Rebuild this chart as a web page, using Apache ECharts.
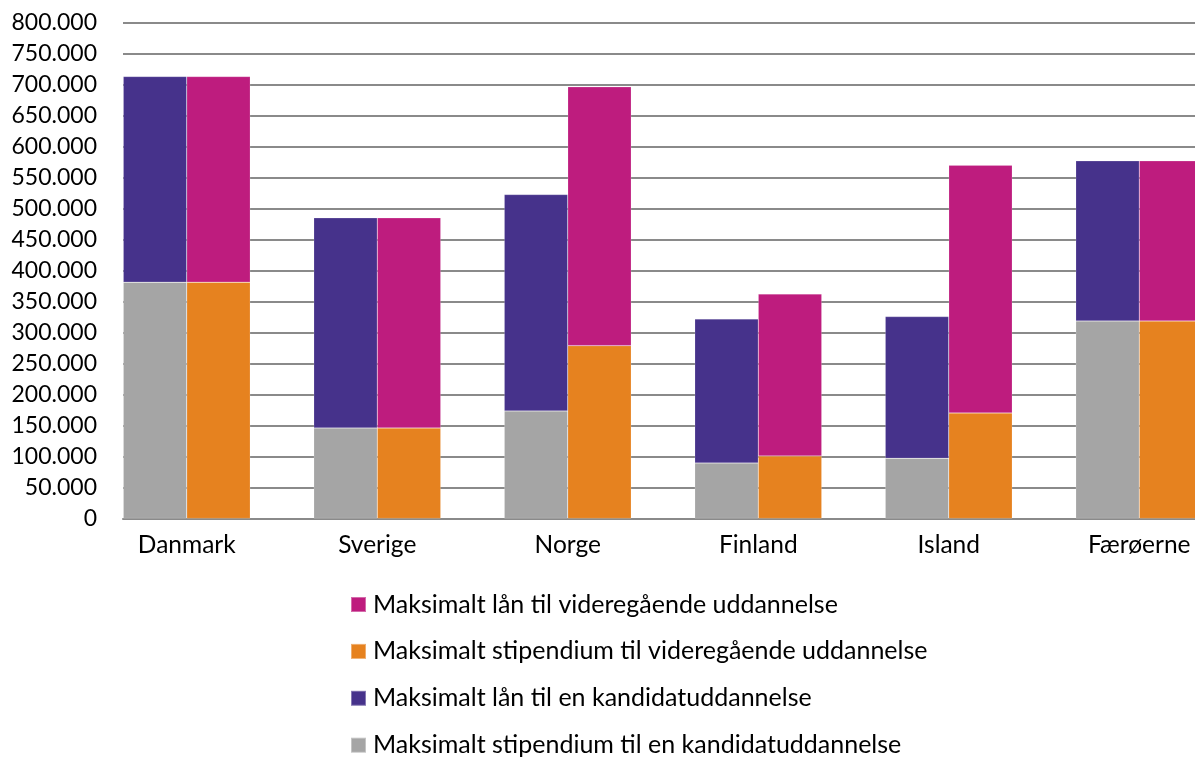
<!DOCTYPE html>
<html>
<head>
<meta charset="utf-8">
<script src="https://cdn.jsdelivr.net/npm/echarts@6/dist/echarts.min.js"></script>
<style>
  html, body { margin: 0; padding: 0; background: #fff; overflow: hidden; }
  /* the original chart is cut off on the right, so the canvas is wider than the window */
  #chart { width: 1240px; height: 800px; }
</style>
</head>
<body>
<div id="chart"></div>
<script>
const categories = ["Danmark", "Sverige", "Norge", "Finland", "Island", "Færøerne"];
// kandidatuddannelse
const stipKandidat = [381000, 146000, 173500, 89500, 97000, 318500];
const laanKandidat = [331600, 338700, 348800, 232300, 228500, 258100];
// videregående uddannelse
const stipVideregaaende = [381000, 146000, 278700, 100800, 170200, 318500];
const laanVideregaaende = [331600, 338700, 417300, 261200, 399500, 258100];

const names = {
  laanVid: "Maksimalt lån til videregående uddannelse",
  stipVid: "Maksimalt stipendium til videregående uddannelse",
  laanKand: "Maksimalt lån til en kandidatuddannelse",
  stipKand: "Maksimalt stipendium til en kandidatuddannelse",
};

const font = "Lato";
const textColor = "#000";

function fmt(v) {
  return String(v).replace(/\B(?=(\d{3})+(?!\d))/g, ".");
}

const chart = echarts.init(document.getElementById("chart"));

const barStyle = (color) => ({
  color: color,
  borderColor: "rgba(255,255,255,0.35)",
  borderWidth: 0.5,
});

chart.setOption({
  animation: false,
  textStyle: { fontFamily: font },
  grid: [
    // axis + gridlines, visible part ends at the window edge (1195)
    { left: 123, width: 1072, top: 22.3, height: 496.2 },
    // bars: bands of 190.5 px, first band starts left of the axis
    { left: 91.5, width: 1143, top: 22.3, height: 496.2 },
  ],
  xAxis: [
    {
      gridIndex: 0,
      type: "category",
      data: categories,
      axisLine: { lineStyle: { color: "#8a8a8a", width: 2 } },
      axisTick: { show: false },
      axisLabel: { show: false },
    },
    {
      gridIndex: 1,
      type: "category",
      data: categories,
      axisLine: { show: false },
      axisTick: { show: false },
      axisLabel: {
        fontFamily: font,
        fontSize: 24.5,
        color: textColor,
        margin: 14,
        interval: 0,
      },
    },
  ],
  yAxis: [
    {
      gridIndex: 0,
      type: "value",
      min: 0,
      max: 800000,
      interval: 50000,
      axisLine: { show: false },
      axisTick: { show: false },
      axisLabel: {
        fontFamily: font,
        fontSize: 23,
        color: textColor,
        margin: 26,
        formatter: fmt,
      },
      splitLine: { lineStyle: { color: "#8a8a8a", width: 2 } },
    },
    {
      gridIndex: 1,
      type: "value",
      min: 0,
      max: 800000,
      show: false,
      splitLine: { show: false },
    },
  ],
  legend: {
    orient: "vertical",
    left: 350,
    top: 592,
    padding: 0,
    itemWidth: 15,
    itemHeight: 15,
    itemGap: 21.9,
    icon: "rect",
    data: [names.laanVid, names.stipVid, names.laanKand, names.stipKand],
    textStyle: {
      fontFamily: font,
      fontSize: 25,
      lineHeight: 23,
      color: textColor,
      padding: [0, 0, 0, 2],
    },
  },
  series: [
    {
      name: names.stipKand,
      type: "bar",
      stack: "kandidat",
      xAxisIndex: 1,
      yAxisIndex: 1,
      barGap: "0%",
      barCategoryGap: "33.33%",
      itemStyle: barStyle("#a5a5a5"),
      data: stipKandidat,
    },
    {
      name: names.laanKand,
      type: "bar",
      stack: "kandidat",
      xAxisIndex: 1,
      yAxisIndex: 1,
      itemStyle: barStyle("#46328b"),
      data: laanKandidat,
    },
    {
      name: names.stipVid,
      type: "bar",
      stack: "videre",
      xAxisIndex: 1,
      yAxisIndex: 1,
      itemStyle: barStyle("#e6821f"),
      data: stipVideregaaende,
    },
    {
      name: names.laanVid,
      type: "bar",
      stack: "videre",
      xAxisIndex: 1,
      yAxisIndex: 1,
      itemStyle: barStyle("#be1c7e"),
      data: laanVideregaaende,
    },
  ],
});
</script>
</body>
</html>
